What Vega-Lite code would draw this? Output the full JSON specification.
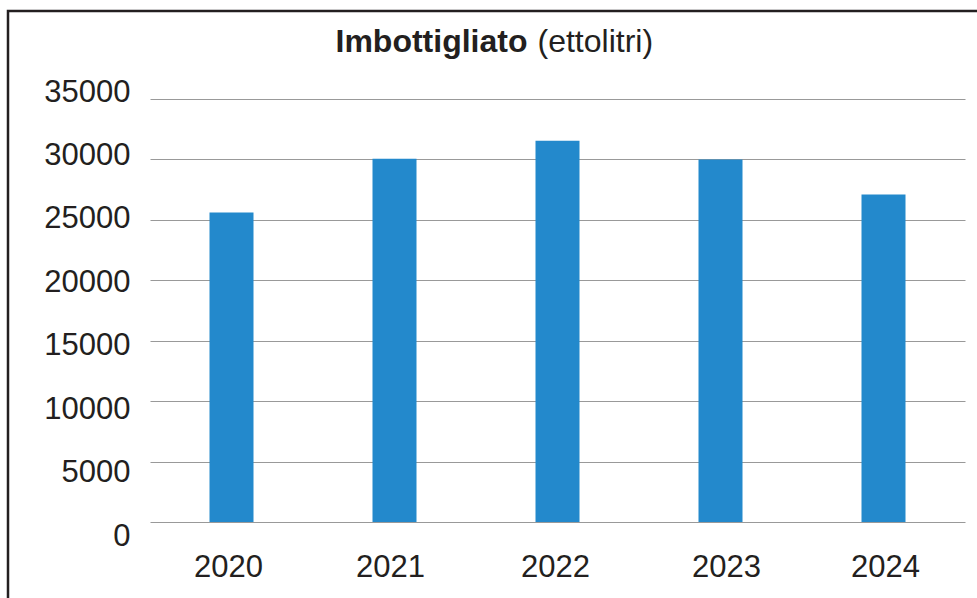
{
  "$schema": "https://vega.github.io/schema/vega-lite/v6.json",
  "width": 973,
  "height": 591,
  "autosize": {"type": "none"},
  "padding": {"left": 8, "top": 11, "right": -4, "bottom": -4},
  "background": "white",
  "data": {
    "values": [
      {"anno": "2020", "ettolitri": 25600},
      {"anno": "2021", "ettolitri": 30050},
      {"anno": "2022", "ettolitri": 31550},
      {"anno": "2023", "ettolitri": 30000},
      {"anno": "2024", "ettolitri": 27100}
    ]
  },
  "mark": {"type": "bar", "width": 44, "color": "#2389cc"},
  "encoding": {
    "x": {
      "field": "anno",
      "type": "ordinal",
      "sort": null,
      "scale": {"range": [142, 957], "paddingInner": 0, "paddingOuter": 0},
      "axis": {
        "orient": "bottom",
        "offset": -80,
        "domain": false,
        "ticks": false,
        "grid": false,
        "labelAngle": 0,
        "labelFont": "Liberation Sans",
        "labelFontSize": 31,
        "labelColor": "#231f20",
        "labelPadding": 30,
        "labelOffset": {
          "condition": [
            {"test": "datum.value == '2020'", "value": -3},
            {"test": "datum.value == '2021'", "value": -4},
            {"test": "datum.value == '2022'", "value": -2},
            {"test": "datum.value == '2023'", "value": 6},
            {"test": "datum.value == '2024'", "value": 2}
          ],
          "value": 0
        },
        "title": "Imbottigliato",
        "titleAngle": 0,
        "titleAlign": "left",
        "titleBaseline": "alphabetic",
        "titleX": 327,
        "titleY": -471,
        "titleFont": "Liberation Sans",
        "titleFontSize": 32,
        "titleFontWeight": "bold",
        "titleColor": "#231f20"
      }
    },
    "y": {
      "field": "ettolitri",
      "type": "quantitative",
      "scale": {"domain": [0, 35000], "range": [511, 88], "nice": false},
      "axis": {
        "orient": "left",
        "offset": -142,
        "values": [0, 5000, 10000, 15000, 20000, 25000, 30000, 35000],
        "format": "d",
        "grid": true,
        "gridColor": "#999999",
        "gridWidth": 1,
        "ticks": false,
        "domain": false,
        "labelFont": "Liberation Sans",
        "labelFontSize": 31,
        "labelColor": "#231f20",
        "labelPadding": 20,
        "labelOffset": {
          "condition": [
            {"test": "datum.value == 35000", "value": -7},
            {"test": "datum.value == 30000", "value": -4},
            {"test": "datum.value == 25000", "value": -1},
            {"test": "datum.value == 20000", "value": 2},
            {"test": "datum.value == 15000", "value": 5},
            {"test": "datum.value == 10000", "value": 8},
            {"test": "datum.value == 5000", "value": 11},
            {"test": "datum.value == 0", "value": 14}
          ],
          "value": 0
        },
        "title": "(ettolitri)",
        "titleAngle": 0,
        "titleAlign": "left",
        "titleBaseline": "alphabetic",
        "titleX": 387,
        "titleY": 40,
        "titleFont": "Liberation Sans",
        "titleFontSize": 32,
        "titleFontWeight": "normal",
        "titleColor": "#231f20"
      }
    }
  },
  "config": {
    "view": {"stroke": "#231f20", "strokeWidth": 2.5}
  }
}
